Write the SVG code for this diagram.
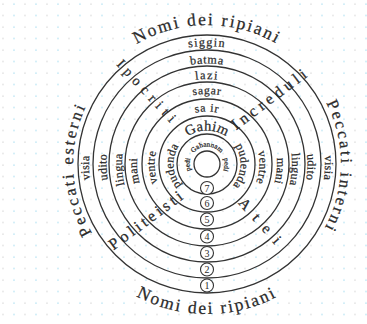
<svg xmlns="http://www.w3.org/2000/svg" width="367" height="324" viewBox="0 0 367 324">
<defs>
<pattern id="dots" width="22" height="11.5" patternUnits="userSpaceOnUse">
<circle cx="3" cy="4" r="0.65" fill="#c4c4c4"/>
<circle cx="14" cy="4" r="0.65" fill="#86d0ea"/>
</pattern>
<path id="pTop" d="M207 303A139 139 0 1 1 207 25A139 139 0 1 1 207 303"/>
<path id="pSide" d="M207 298A134 134 0 1 1 207 30A134 134 0 1 1 207 298"/>
<path id="pBot" d="M207 14A150 150 0 1 0 207 314A150 150 0 1 0 207 14"/>
<path id="b1" d="M207 282A118 118 0 1 1 207 46A118 118 0 1 1 207 282"/>
<path id="b2" d="M207 264.5A100.5 100.5 0 1 1 207 63.5A100.5 100.5 0 1 1 207 264.5"/>
<path id="b3" d="M207 249A85 85 0 1 1 207 79A85 85 0 1 1 207 249"/>
<path id="b4" d="M207 234A70 70 0 1 1 207 94A70 70 0 1 1 207 234"/>
<path id="b5" d="M207 216.5A52.5 52.5 0 1 1 207 111.5A52.5 52.5 0 1 1 207 216.5"/>
<path id="b6" d="M207 197.5A33.5 33.5 0 1 1 207 130.5A33.5 33.5 0 1 1 207 197.5"/>
<path id="b7" d="M207 181.5A17.5 17.5 0 1 1 207 146.5A17.5 17.5 0 1 1 207 181.5"/>
</defs>
<style>
.ring{fill:none;stroke:#333;stroke-width:1.3}
.t{font-family:"Liberation Serif","Times New Roman",serif;fill:#2b2b2b;stroke:#2b2b2b;stroke-width:0.25}
.big{font-size:17.5px;letter-spacing:2px}
.band{font-size:12px;letter-spacing:0.8px}
.side{font-size:12px;letter-spacing:0.3px}
.inner{font-size:7px;letter-spacing:0.1px}
.diag{font-size:15px}
.num circle{fill:#fff;stroke:#333;stroke-width:1.1}
.num text{font-family:"Liberation Serif",serif;font-size:10px;fill:#2b2b2b;text-anchor:middle}
</style>
<rect width="367" height="324" fill="#fff"/>
<rect width="367" height="324" fill="url(#dots)"/>

<g id="rings">
<circle class="ring" cx="207" cy="164" r="129"/>
<circle class="ring" cx="207" cy="164" r="114"/>
<circle class="ring" cx="207" cy="164" r="98"/>
<circle class="ring" cx="207" cy="164" r="82"/>
<circle class="ring" cx="207" cy="164" r="65"/>
<circle class="ring" cx="207" cy="164" r="48"/>
<circle class="ring" cx="207" cy="164" r="30"/>
<circle cx="207" cy="164" r="13" fill="#fff" stroke="#333" stroke-width="1.3"/>
</g>

<g id="outer-labels" class="t big" text-anchor="middle">
<text><textPath href="#pTop" startOffset="50%">Nomi dei ripiani</textPath></text>
<text><textPath href="#pBot" startOffset="50%">Nomi dei ripiani</textPath></text>
<text style="letter-spacing:2.5px;font-size:16.5px"><textPath href="#pSide" startOffset="24.3%">Peccati esterni</textPath></text>
<text style="letter-spacing:2.5px;font-size:16.5px"><textPath href="#pSide" startOffset="75.3%">Peccati interni</textPath></text>
</g>

<g id="band-names" class="t" text-anchor="middle">
<text class="band" style="letter-spacing:1.3px"><textPath href="#b1" startOffset="50%">siggin</textPath></text>
<text class="band"><textPath href="#b2" startOffset="50%">batma</textPath></text>
<text class="band" style="letter-spacing:1.5px"><textPath href="#b3" startOffset="50%">lazi</textPath></text>
<text class="band" style="font-size:11.5px"><textPath href="#b4" startOffset="50%">sagar</textPath></text>
<text class="band" style="font-size:11.5px"><textPath href="#b5" startOffset="50%">sa ir</textPath></text>
<text class="band" style="font-size:14.5px;letter-spacing:0.3px"><textPath href="#b6" startOffset="50%">Gahim</textPath></text>
<text class="inner"><textPath href="#b7" startOffset="50%">Gahannam</textPath></text>
</g>

<g id="left-labels" class="t side" text-anchor="middle">
<text><textPath href="#b1" startOffset="24.5%">visia</textPath></text>
<text><textPath href="#b2" startOffset="24.5%">udito</textPath></text>
<text><textPath href="#b3" startOffset="24%">lingua</textPath></text>
<text><textPath href="#b4" startOffset="23.5%">mani</textPath></text>
<text><textPath href="#b5" startOffset="24%">ventre</textPath></text>
<text><textPath href="#b6" startOffset="24%">pudenda</textPath></text>
<text class="inner"><textPath href="#b7" startOffset="24.5%">pedi</textPath></text>
</g>

<g id="right-labels" class="t side" text-anchor="middle">
<text><textPath href="#b1" startOffset="75.5%">visia</textPath></text>
<text><textPath href="#b2" startOffset="75.5%">udito</textPath></text>
<text><textPath href="#b3" startOffset="76%">lingua</textPath></text>
<text><textPath href="#b4" startOffset="76.5%">mani</textPath></text>
<text><textPath href="#b5" startOffset="76%">ventre</textPath></text>
<text><textPath href="#b6" startOffset="76%">pudenda</textPath></text>
<text class="inner"><textPath href="#b7" startOffset="75.5%">pedi</textPath></text>
</g>

<g id="sinners" class="t">
<text class="diag" style="font-size:14px;letter-spacing:5.5px" transform="translate(115.9 64.8) rotate(47.1)">Ipocriti</text>
<text class="diag" style="font-size:16px;letter-spacing:4px" transform="translate(236 130.5) rotate(-37)">Increduli</text>
<text class="diag" style="font-size:16px;letter-spacing:3.4px" transform="translate(113.5 250.6) rotate(-36.4)">Politeisti</text>
<text class="diag" style="letter-spacing:9.9px" transform="translate(237.8 203.3) rotate(48.4)">Atei</text>
</g>

<g id="numbers" class="num">
<g id="n1"><circle cx="207" cy="285.5" r="6.5"/><text x="207" y="289">1</text></g>
<g id="n2"><circle cx="207" cy="269.5" r="6.5"/><text x="207" y="273">2</text></g>
<g id="n3"><circle cx="207" cy="253" r="6.5"/><text x="207" y="256.5">3</text></g>
<g id="n4"><circle cx="207" cy="236.5" r="6.5"/><text x="207" y="240">4</text></g>
<g id="n5"><circle cx="207" cy="219.5" r="6.5"/><text x="207" y="223">5</text></g>
<g id="n6"><circle cx="207" cy="203" r="6.5"/><text x="207" y="206.5">6</text></g>
<g id="n7"><circle cx="207" cy="188" r="6.5"/><text x="207" y="191.5">7</text></g>
</g>
</svg>
